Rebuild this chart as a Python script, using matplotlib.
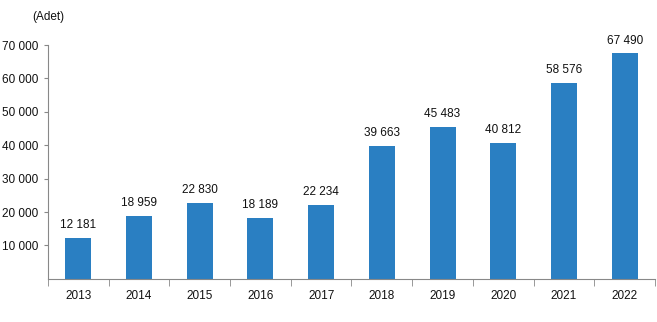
import matplotlib
matplotlib.use("Agg")
import matplotlib.pyplot as plt
import numpy as np

years = ["2013", "2014", "2015", "2016", "2017", "2018", "2019", "2020", "2021", "2022"]
values = [12181, 18959, 22830, 18189, 22234, 39663, 45483, 40812, 58576, 67490]
y_ticks = [10000, 20000, 30000, 40000, 50000, 60000, 70000]

plt.rcParams["font.family"] = ["Liberation Sans", "DejaVu Sans"]
FS = 8.5

def fmt(v):
    return f"{v:,}".replace(",", " ")

fig = plt.figure(figsize=(6.57, 3.22), dpi=100)
ax = fig.add_axes([0.073, 0.134, 0.924, 0.726])

x = np.arange(len(years))
ax.bar(x, values, width=0.43, color="#2A7FC2", zorder=2)
for xi, v in zip(x, values):
    ax.annotate(fmt(v), (xi, v), xytext=(0, 5), textcoords="offset points",
                ha="center", va="bottom", fontsize=FS, color="#111111")

ax.set_xlim(-0.5, len(years) - 0.5)
ax.set_ylim(0, 70000)
ax.set_yticks(y_ticks)
ax.set_yticklabels([fmt(t) for t in y_ticks], fontsize=FS, color="#111111")
ax.set_xticks(x)
ax.set_xticklabels(years, fontsize=FS, color="#111111")
ax.tick_params(axis="x", length=0, pad=8)
ax.set_xticks(np.arange(-0.5, len(years), 1.0), minor=True)
ax.tick_params(axis="x", which="minor", length=5, color="#888888", direction="out")
ax.tick_params(axis="y", length=3, color="#888888", direction="out", pad=4)

for s in ["top", "right"]:
    ax.spines[s].set_visible(False)
for s in ["left", "bottom"]:
    ax.spines[s].set_color("#888888")
    ax.spines[s].set_linewidth(0.8)

fig.text(32 / 657, 1 - 17 / 322, "(Adet)", fontsize=FS, color="#111111", va="center", ha="left")

fig.savefig("out.png", dpi=100)
